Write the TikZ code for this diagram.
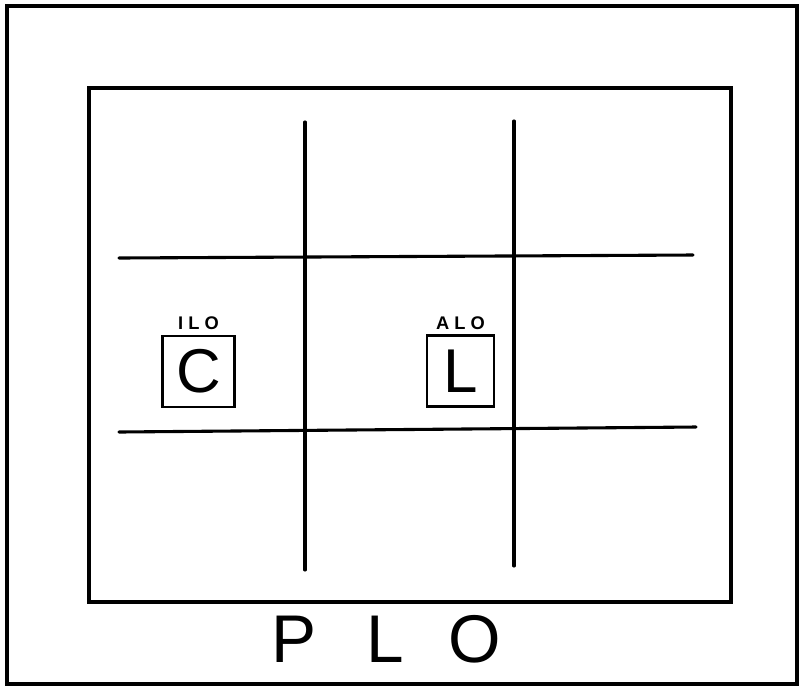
\documentclass[tikz,border=0pt]{standalone}
\usepackage{fontspec}
\setmainfont{Liberation Sans}
\usepackage{tikz}
\usetikzlibrary{positioning,calc}

\begin{document}
\begin{tikzpicture}[
    x=0.025cm, y=-0.025cm,
    ink/.style={line width=2.2pt, line cap=round},
    letterbox/.style={
      draw,
      line width=1.8pt,
      minimum width=1.8cm,
      minimum height=1.78cm,
      inner sep=0pt,
      font=\fontsize{44}{44}\selectfont
    },
    tag/.style={
      font=\fontsize{13}{13}\selectfont\bfseries,
      inner sep=1pt
    },
    title/.style={
      font=\fontsize{48}{48}\selectfont,
      inner sep=0pt
    }
  ]
  \useasboundingbox (0,0) rectangle (801,687);

  % outer and inner frame
  \draw[ink] (7,6) rectangle (797,684);
  \draw[ink] (89,88) rectangle (731,602);

  % grid
  \draw[ink] (305,122) -- (305,570);
  \draw[ink] (514,121) -- (514,566);
  \draw[ink] (119,258) -- (693,255);
  \draw[ink] (119,432) -- (696,427);

  % letters
  \node[letterbox] (cbox) at (198.5,371.5) {C};
  \node[tag,above=2pt of cbox] (clab) {I L O};

  \node[letterbox, minimum width=1.68cm] (lbox) at (460.5,371) {L};
  \node[tag,above=2pt of lbox] (llab) {A L O};

  % caption
  \node[title] (plo) at (386,639) {P\hspace{1.25cm}L\hspace{1.1cm}O};

\end{tikzpicture}
\end{document}
